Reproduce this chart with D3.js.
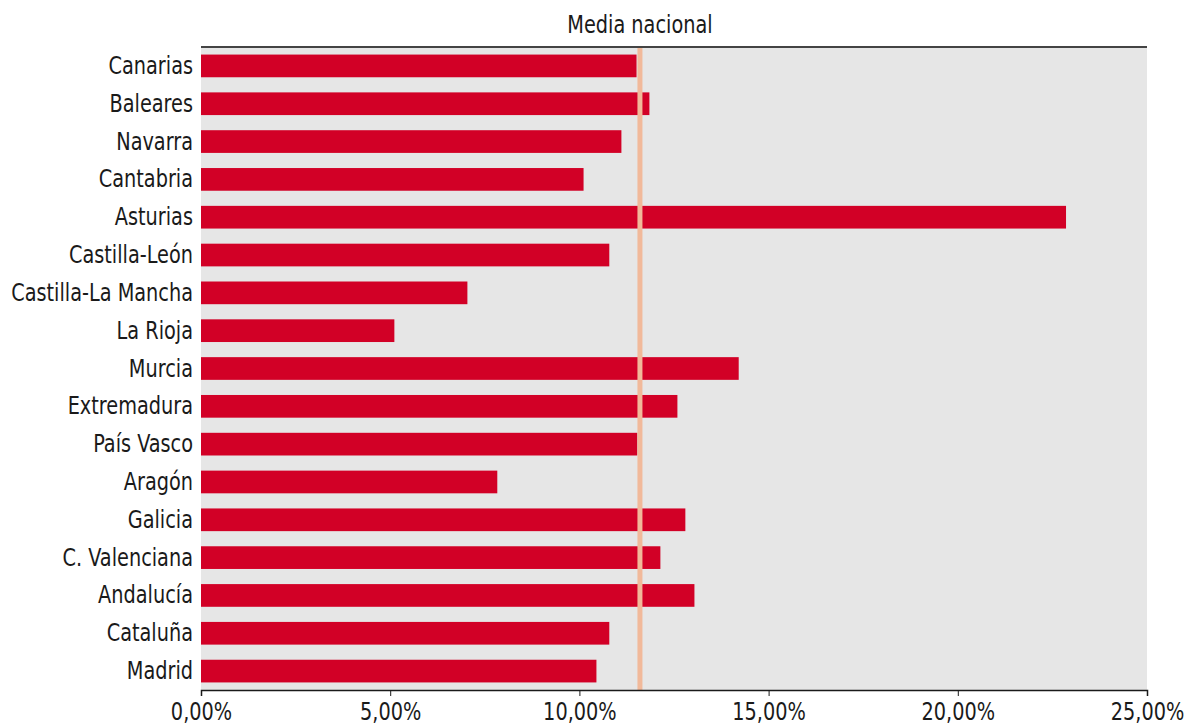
<!DOCTYPE html>
<html>
<head>
<meta charset="utf-8">
<script src="https://cdn.jsdelivr.net/npm/d3@7"></script>
<style>
  body { margin: 0; background: #fff; }
  svg text { font-family: "DejaVu Sans Condensed", "DejaVu Sans", sans-serif; font-stretch: condensed; fill: #1a1a1a; }
</style>
</head>
<body>
<div id="chart"></div>
<script>
// Regions, top to bottom
const regions = ["Canarias", "Baleares", "Navarra", "Cantabria", "Asturias", "Castilla-León",
  "Castilla-La Mancha", "La Rioja", "Murcia", "Extremadura", "País Vasco", "Aragón",
  "Galicia", "C. Valenciana", "Andalucía", "Cataluña", "Madrid"];
// Share per region, in %
const values = [11.51, 11.85, 11.11, 10.11, 22.86, 10.79, 7.04, 5.11, 14.21, 12.59,
  11.53, 7.83, 12.80, 12.14, 13.04, 10.79, 10.45];
const mediaNacional = 11.6;
const mediaLabel = "Media nacional";
const xTicks = [0, 5, 10, 15, 20, 25];

const margin = { top: 47, right: 38, bottom: 37, left: 201 },
  width = 1185 - margin.left - margin.right,
  height = 727 - margin.top - margin.bottom,
  fontSize = 25;

const data = regions.map((r, i) => ({ region: r, value: values[i] }));

const svg = d3.select("#chart")
  .append("svg")
    .attr("width", 1185)
    .attr("height", 727);

const g = svg.append("g")
  .attr("transform", "translate(" + margin.left + "," + margin.top + ")");

const xScale = d3.scaleLinear().domain([0, 25]).range([0, width]);
const yScale = d3.scaleBand().domain(regions).range([0, height])
  .paddingInner(0.4).paddingOuter(0.2);

// plot background
g.append("rect")
  .attr("width", width)
  .attr("height", height)
  .style("fill", "#e6e6e6");

// bars
g.selectAll(".bar")
  .data(data)
  .enter()
  .append("rect")
    .attr("class", "bar")
    .attr("x", 0)
    .attr("y", d => yScale(d.region))
    .attr("width", d => xScale(d.value))
    .attr("height", yScale.bandwidth())
    .style("fill", "#d20026");

// national average line
g.append("line")
  .attr("x1", xScale(mediaNacional))
  .attr("x2", xScale(mediaNacional))
  .attr("y1", 0)
  .attr("y2", height)
  .style("stroke", "#f1b99a")
  .style("stroke-width", 5);

// top rule
g.append("line")
  .attr("x1", 0)
  .attr("x2", width)
  .attr("y1", 0)
  .attr("y2", 0)
  .style("stroke", "#444")
  .style("stroke-width", 2);

const title = g.append("text")
  .attr("x", xScale(mediaNacional))
  .attr("y", -14)
  .attr("text-anchor", "middle")
  .style("font-size", fontSize + "px")
  .text(mediaLabel);

// y axis labels
const yAxis = g.append("g")
  .call(d3.axisLeft(yScale).tickSize(0).tickPadding(8));
yAxis.select(".domain").remove();
yAxis.selectAll("text").style("font-size", fontSize + "px");

// x axis
const fmt = d => d3.format(".2f")(d).replace(".", ",") + "%";
const xAxis = g.append("g")
  .attr("transform", "translate(0," + height + ")")
  .call(d3.axisBottom(xScale).tickValues(xTicks).tickFormat(fmt).tickSizeOuter(0).tickSize(6).tickPadding(6));
xAxis.select(".domain").style("stroke", "#1a1a1a").style("stroke-width", 1.5);
xAxis.selectAll(".tick line").style("stroke", "#1a1a1a");
xAxis.selectAll("text").style("font-size", fontSize + "px");

// squeeze the text horizontally so it reads like the narrow original face
const longest = yAxis.selectAll("text").filter(d => d === "Castilla-La Mancha").node();
const k = 182 / longest.getComputedTextLength();
svg.selectAll("text").each(function () {
  const t = d3.select(this);
  const x = +t.attr("x") || 0;
  t.attr("x", x / k).attr("transform", "scale(" + k + ",1)");
});
</script>
</body>
</html>
